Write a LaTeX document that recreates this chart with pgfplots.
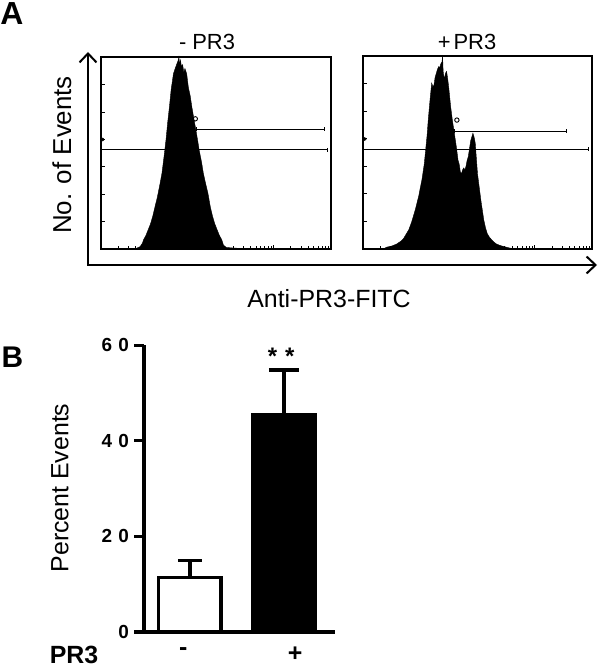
\documentclass[border=0pt]{standalone}
\usepackage{pgfplots}
\pgfplotsset{compat=1.18}
\usepackage{fontspec}
\setmainfont{Liberation Sans}
\usetikzlibrary{arrows.meta}
\newcommand\fs[1]{\fontsize{#1}{#1}\selectfont}

\pgfplotstableread{
x h
0.55 0
0.62 0.004
0.68 0.012
0.72 0.03
0.74 0.048
0.78 0.07
0.82 0.10
0.86 0.13
0.90 0.17
0.94 0.221
0.98 0.27
1.02 0.33
1.06 0.394
1.10 0.49
1.13 0.567
1.16 0.66
1.19 0.74
1.22 0.83
1.26 0.913
1.29 0.94
1.32 0.965
1.34 0.98
1.355 1.0
1.365 0.96
1.38 0.985
1.40 0.95
1.42 0.96
1.44 0.92
1.46 0.94
1.49 0.913
1.52 0.84
1.55 0.80
1.58 0.74
1.62 0.67
1.65 0.62
1.68 0.567
1.71 0.51
1.75 0.45
1.78 0.394
1.82 0.34
1.86 0.29
1.90 0.221
1.94 0.17
1.98 0.13
2.02 0.10
2.06 0.07
2.10 0.048
2.13 0.02
2.18 0.008
2.30 0.005
2.50 0.002
2.65 0
}\histminus

\pgfplotstableread{
x h
0.35 0
0.42 0.01
0.50 0.015
0.59 0.026
0.66 0.04
0.71 0.055
0.76 0.08
0.80 0.10
0.85 0.14
0.91 0.20
0.97 0.27
1.03 0.36
1.07 0.44
1.09 0.50
1.12 0.59
1.14 0.67
1.17 0.77
1.20 0.86
1.22 0.84
1.24 0.85
1.26 0.89
1.28 0.91
1.30 0.93
1.32 0.945
1.34 0.94
1.36 0.96
1.38 0.97
1.39 1.00
1.40 0.92
1.42 0.88
1.44 0.91
1.46 0.92
1.48 0.88
1.50 0.83
1.53 0.74
1.56 0.67
1.58 0.63
1.61 0.57
1.63 0.53
1.66 0.46
1.68 0.44
1.70 0.40
1.72 0.39
1.74 0.41
1.76 0.42
1.78 0.41
1.80 0.43
1.82 0.46
1.84 0.48
1.86 0.52
1.88 0.56
1.90 0.58
1.92 0.60
1.94 0.58
1.96 0.55
1.98 0.47
2.00 0.39
2.03 0.32
2.06 0.25
2.09 0.19
2.11 0.15
2.14 0.11
2.17 0.08
2.21 0.06
2.25 0.047
2.29 0.035
2.33 0.026
2.38 0.02
2.42 0.016
2.47 0.012
2.51 0.009
2.56 0.005
2.62 0.002
2.70 0
}\histplus

\pgfplotsset{
  histaxis/.style={
    anchor=south west, scale only axis,
    xmin=0, xmax=4, ymin=0, ymax=1,
    xtick={0,1,2,3,4},
    minor xtick={0.301,0.477,0.602,0.699,0.778,0.845,0.903,0.954,
                 1.301,1.477,1.602,1.699,1.778,1.845,1.903,1.954,
                 2.301,2.477,2.602,2.699,2.778,2.845,2.903,2.954,
                 3.301,3.477,3.602,3.699,3.778,3.845,3.903,3.954},
    ytick={0.143,0.286,0.429,0.571,0.714,0.857},
    xticklabels={}, yticklabels={},
    xtick pos=bottom, ytick pos=left,
    tick align=inside,
    major tick length=3.5bp, minor tick length=2.5bp,
    tick style={black, line width=0.7bp},
    axis line style={line width=1.3bp},
    clip=false,
  },
}

\begin{document}
\begin{tikzpicture}
\path[use as bounding box] (0,0) rectangle (600bp,668bp);

% ---------- Panel A ----------
\begin{axis}[histaxis, at={(101bp,419bp)}, width=230bp, height=192bp]
  \addplot[fill=black, draw=black, line width=0.4bp] table[x=x,y=h] {\histminus} \closedcycle;
  \addplot[black, line width=1.1bp, mark=|, mark size=2bp] coordinates {(0,0.516) (3.94,0.516)};
  \addplot[black, line width=1.1bp, mark=|, mark size=2bp] coordinates {(1.655,0.623) (3.89,0.623)};
  \addplot[only marks, mark=*, mark size=1.6bp, black] coordinates {(0.03,0.57)};
  \addplot[only marks, mark=o, mark size=2.2bp, black, line width=0.9bp] coordinates {(1.64,0.678)};
\end{axis}

\begin{axis}[histaxis, at={(363bp,419bp)}, width=229bp, height=193bp]
  \addplot[fill=black, draw=black, line width=0.4bp] table[x=x,y=h] {\histplus} \closedcycle;
  \addplot[black, line width=1.1bp, mark=|, mark size=2bp] coordinates {(0,0.516) (3.94,0.516)};
  \addplot[black, line width=1.1bp, mark=|, mark size=2bp] coordinates {(1.59,0.611) (3.56,0.611)};
  \addplot[only marks, mark=*, mark size=1.6bp, black] coordinates {(0.03,0.57)};
  \addplot[only marks, mark=o, mark size=2.2bp, black, line width=0.9bp] coordinates {(1.64,0.668)};
\end{axis}

\draw[line width=2bp, {Straight Barb[length=9bp,width=17bp]}-{Straight Barb[length=9bp,width=17bp]}]
  (88bp,616bp) -- (88bp,403bp) -- (597bp,403bp);

\node[font=\bfseries\fs{32}] at (12bp,654.5bp) {A};
\node[font=\fs{22}] at (207bp,626.5bp) {-\hspace{6bp}PR3};
\node[font=\fs{22}] at (467bp,626.5bp) {+\hspace{3bp}PR3};
\node[font=\fs{26}, rotate=90] at (62bp,513bp) {No. of Events};
\node[font=\fs{25}] at (329bp,369.5bp) {Anti-PR3-FITC};

% ---------- Panel B ----------
\node[font=\bfseries\fs{30}] at (12.5bp,311bp) {B};

\begin{axis}[at={(144bp,36bp)}, anchor=south west, scale only axis,
  width=191bp, height=287bp,
  xmin=-0.489, xmax=1.543, ymin=0, ymax=60,
  axis lines=left,
  axis line style={line width=3.5bp, -},
  ytick={0,20,40,60},
  yticklabels={0, 2\hspace{6bp}0, 4\hspace{6bp}0, 6\hspace{6bp}0},
  yticklabel style={font=\bfseries\fs{19}, inner sep=0pt, xshift=-5bp},
  ytick style={line width=3bp, black},
  major tick length=10bp,
  tick align=outside,
  xtick={-0.07,1.12},
  xticklabels={-,+},
  xtick style={draw=none},
  xticklabel style={font=\bfseries\fs{25}, inner sep=0pt, yshift=-5bp},
  clip=false,
]
  \addplot[ybar, bar width=0.665, bar shift=0pt, fill=white, draw=black, line width=3.5bp,
    error bars/.cd, y dir=plus, y explicit,
    error bar style={line width=3.5bp, black},
    error mark options={rotate=90, mark size=12bp, line width=3.5bp, black}]
    coordinates {(0,11.4) +- (0,3.5)};
  \addplot[ybar, bar width=0.665, bar shift=0pt, fill=black, draw=black, line width=3.5bp,
    error bars/.cd, y dir=plus, y explicit,
    error bar style={line width=3.5bp, black},
    error mark options={rotate=90, mark size=15bp, line width=3.5bp, black}]
    coordinates {(1,45.4) +- (0,9.4)};
  \node[font=\bfseries\fs{24}, anchor=base] at (axis cs:0.97,56.0) {*\hspace{8bp}*};
\end{axis}

\node[font=\fs{25}, rotate=90] at (60bp,180bp) {Percent Events};
\node[font=\bfseries\fs{25}, inner sep=0pt] at (74bp,13bp) {PR3};

\end{tikzpicture}
\end{document}
